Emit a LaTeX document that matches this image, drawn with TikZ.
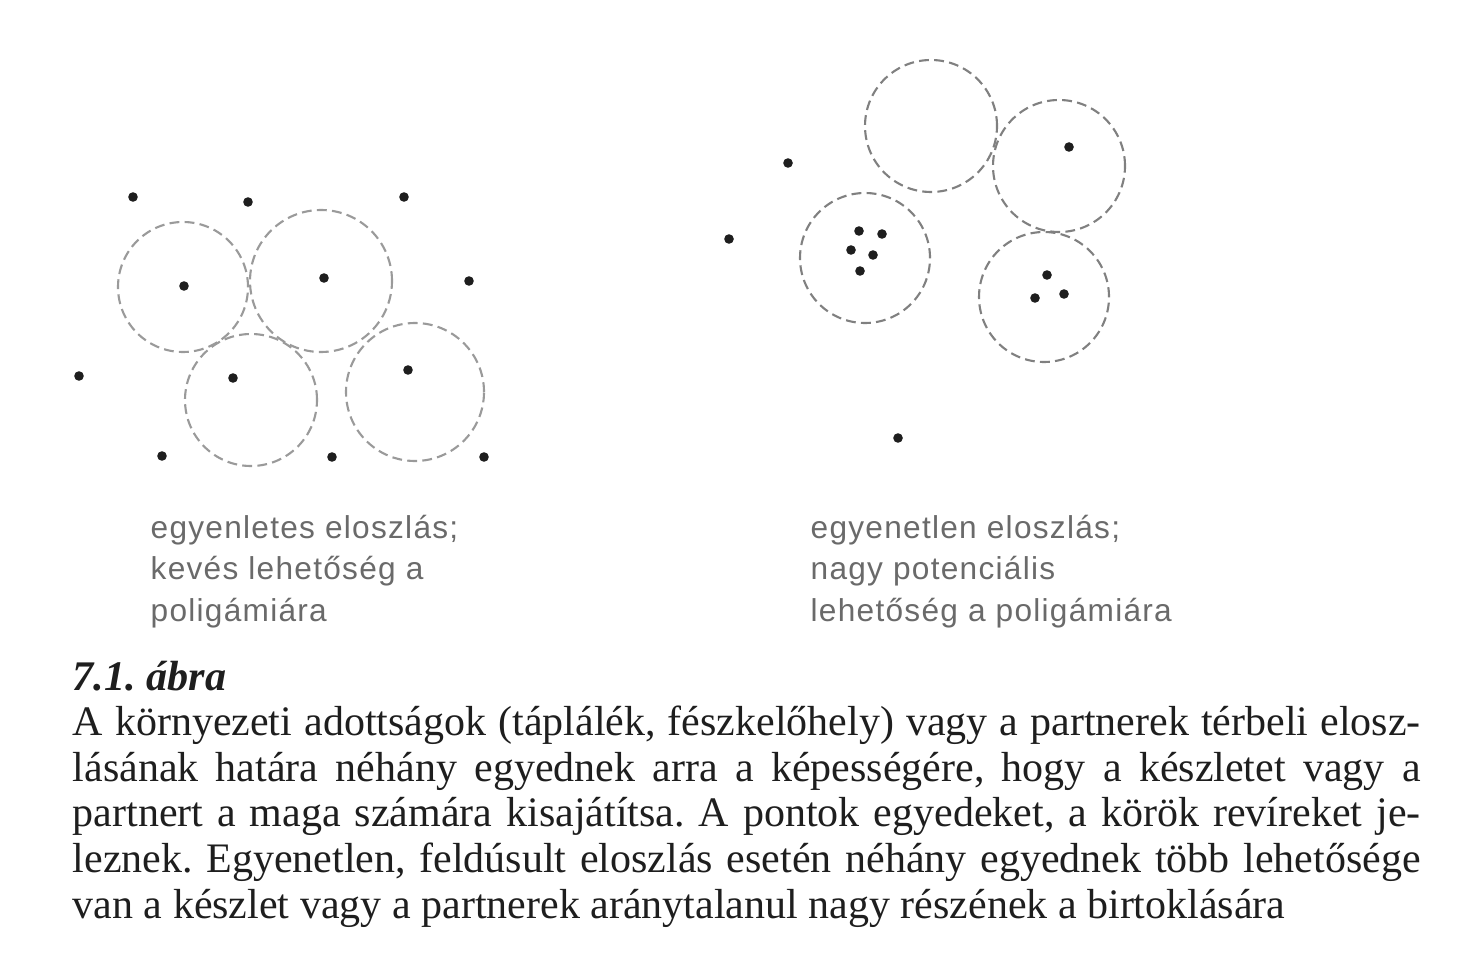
\documentclass[tikz,border=0pt]{standalone}
\usepackage{fontspec}
\setmainfont{Liberation Serif}
\newfontfamily\labelfont[LetterSpace=4]{Liberation Sans}
\definecolor{inkdark}{HTML}{1E1E1E}
\definecolor{labelgray}{HTML}{6A6A6A}
\definecolor{circgray}{HTML}{9A9A9A}
\frenchspacing
\begin{document}
\begin{tikzpicture}[
    territory/.style={draw=circgray, line width=0.6pt, dash pattern=on 2.8pt off 1.5pt},
    lbl/.style={anchor=base west, align=left, inner sep=0pt, text=labelgray,
        font={\fontsize{9pt}{11.67pt}\selectfont\labelfont}},
    captext/.style={anchor=base west, align=left, inner sep=0pt, text=inkdark,
        font={\fontsize{11.95pt}{12.95pt}\selectfont}}
]
    \useasboundingbox (0,0) rectangle (14.67,9.78);

    % Left: even distribution
    \foreach \cx/\cy/\r in {1.83/6.91/0.65, 3.21/6.97/0.71, 2.51/5.78/0.66, 4.15/5.86/0.69}
        \draw[territory] (\cx,\cy) circle (\r);
    \foreach \p in {(1.33,7.81), (2.48,7.76), (4.04,7.81), (1.84,6.92), (3.24,7.00),
        (4.69,6.97), (0.79,6.02), (2.33,6.00), (4.08,6.08), (1.62,5.22), (3.32,5.21), (4.84,5.21)}
        \fill[inkdark] \p circle (0.048);

    % Right: uneven distribution
    \foreach \cx/\cy/\r in {9.31/8.52/0.66, 10.59/8.12/0.66, 8.65/7.20/0.65, 10.44/6.81/0.65}
        \draw[territory, draw=gray] (\cx,\cy) circle (\r);
    \foreach \p in {(7.88,8.15), (7.29,7.39), (8.98,5.40), (10.69,8.31),
        (8.59,7.47), (8.82,7.44), (8.51,7.28), (8.73,7.23), (8.60,7.07),
        (10.47,7.03), (10.35,6.80), (10.64,6.84)}
        \fill[inkdark] \p circle (0.048);

    % Labels (base = last line)
    \node[lbl] (evenlbl) at (1.50,3.57) {egyenletes eloszlás;\\kevés lehetőség a\\poligámiára};
    \node[lbl] (unevenlbl) at (8.10,3.57) {egyenetlen eloszlás;\\nagy potenciális\\lehetőség a poligámiára};

    % Caption
    \node[captext, font={\fontsize{12pt}{12.95pt}\selectfont\bfseries\itshape}] (capttl) at (0.72,2.88) {7.1. ábra};
    \node[captext] (captxt) at (0.72,0.60) {%
        \makebox[13.48cm][s]{A környezeti adottságok (táplálék, fészkelőhely) vagy a partnerek térbeli elosz-}\\
        \makebox[13.48cm][s]{lásának határa néhány egyednek arra a képességére, hogy a készletet vagy a}\\
        \makebox[13.48cm][s]{partnert a maga számára kisajátítsa. A pontok egyedeket, a körök revíreket je-}\\
        \makebox[13.48cm][s]{leznek. Egyenetlen, feldúsult eloszlás esetén néhány egyednek több lehetősége}\\
        van a készlet vagy a partnerek aránytalanul nagy részének a birtoklására};
\end{tikzpicture}
\end{document}
